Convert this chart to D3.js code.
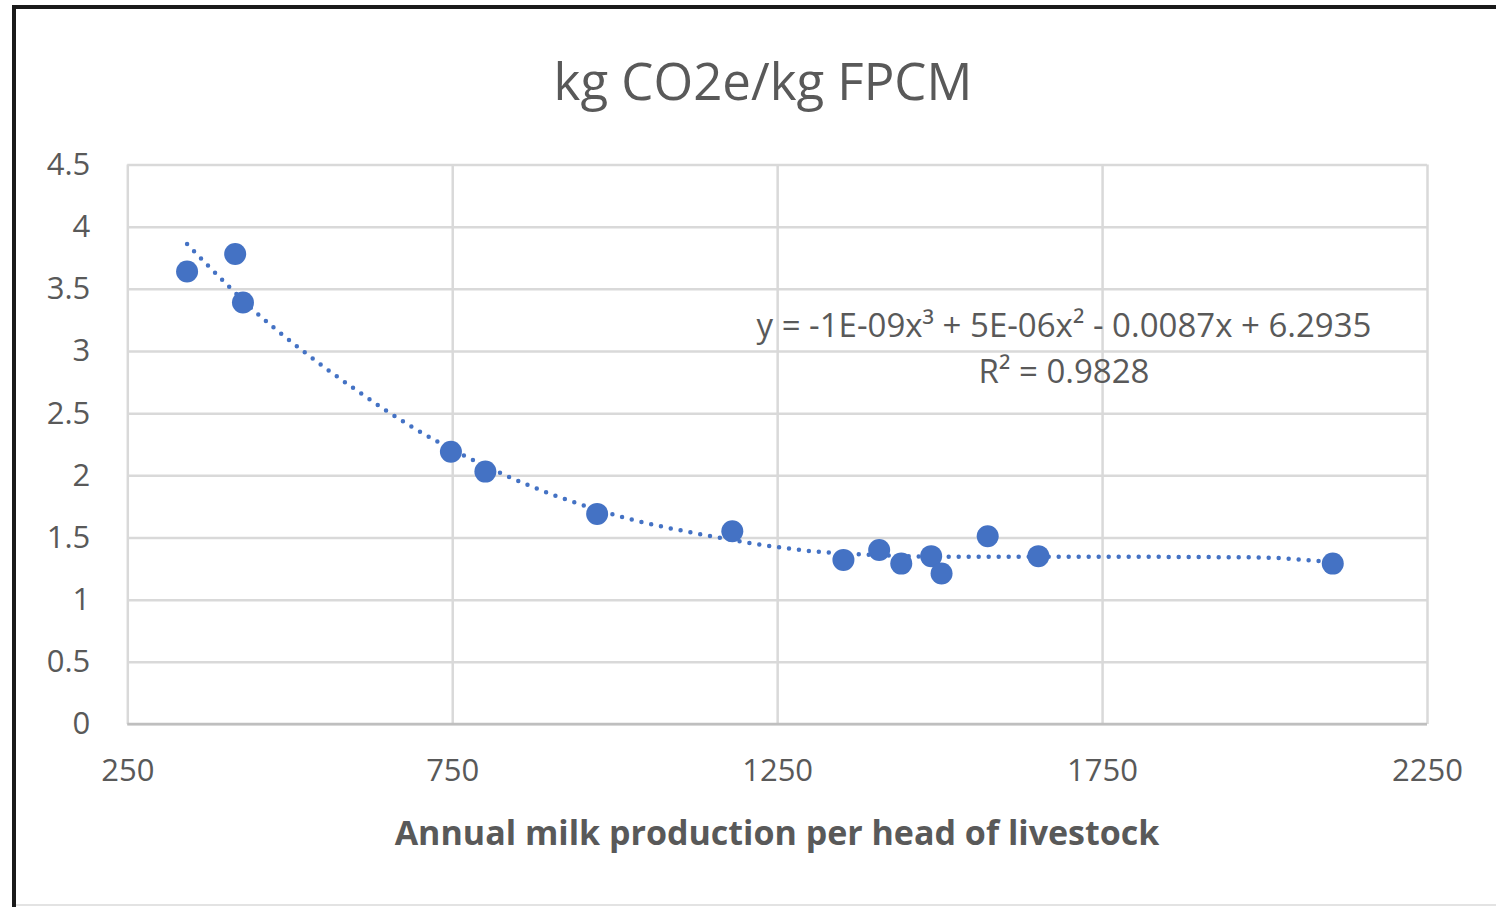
<!DOCTYPE html>
<html>
<head>
<meta charset="utf-8">
<script src="https://cdnjs.cloudflare.com/ajax/libs/d3/7.8.5/d3.min.js"></script>
<style>
  body { margin: 0; background: #fff; }
  #chart { width: 1496px; height: 907px; }
  text { font-family: "Open Sans", "Liberation Sans", sans-serif; fill: #595959; }
</style>
</head>
<body>
<div id="chart"></div>
<script>
// milk production per head (x) vs kg CO2e / kg FPCM (y)
var milkX = [342, 416, 428, 748, 801, 973, 1181, 1352, 1407, 1441, 1487, 1503, 1574, 1652, 2105];
var co2Y  = [3.64, 3.78, 3.39, 2.19, 2.03, 1.69, 1.55, 1.32, 1.40, 1.29, 1.35, 1.21, 1.51, 1.35, 1.29];

// dotted polynomial trendline
var trendX = [342, 406, 444, 513, 601, 691, 768, 832, 994, 1149, 1255, 1326, 1526, 1750, 1986, 2105];
var trendY = [3.86, 3.52, 3.33, 3.03, 2.69, 2.38, 2.16, 2.00, 1.69, 1.51, 1.42, 1.38, 1.345, 1.345, 1.34, 1.30];

var xTicks = [250, 750, 1250, 1750, 2250];
var yTicks = [0, 0.5, 1, 1.5, 2, 2.5, 3, 3.5, 4, 4.5];

var chartTitle = "kg CO2e/kg FPCM";
var xTitle = "Annual milk production per head of livestock";
var equation = "y = -1E-09x\u00B3 + 5E-06x\u00B2 - 0.0087x + 6.2935";
var rSquared = "R\u00B2 = 0.9828";

var W = 1496, H = 907;
var margin = { top: 164.5, right: 69, bottom: 183, left: 127.3 },
    width = W - margin.left - margin.right,
    height = H - margin.top - margin.bottom;

var svg = d3.select("#chart").append("svg")
    .attr("width", W)
    .attr("height", H);

// outer frame (screenshot border)
svg.append("path")
    .attr("d", "M14,907 L14,7 L1496,7")
    .attr("fill", "none")
    .attr("stroke", "#1a1a1a")
    .attr("stroke-width", 4);
svg.append("line")
    .attr("x1", 16).attr("x2", 1496)
    .attr("y1", 905).attr("y2", 905)
    .attr("stroke", "#e3e3e3")
    .attr("stroke-width", 2);

var g = svg.append("g")
    .attr("transform", "translate(" + margin.left + "," + margin.top + ")");

var xScale = d3.scaleLinear().domain([250, 2250]).range([0, width]);
var yScale = d3.scaleLinear().domain([0, 4.5]).range([height, 0]);

// y gridlines + labels
var yAxis = g.append("g")
    .attr("class", "axis axis--y")
    .call(d3.axisLeft(yScale).tickValues(yTicks).tickSize(-width).tickPadding(37)
        .tickFormat(function (d) { return d; }));
yAxis.select(".domain").remove();
yAxis.selectAll("line").attr("stroke", "#d9d9d9").attr("stroke-width", 2.5);
yAxis.selectAll("text").style("font-size", "31px").attr("fill", "#595959");

// x gridlines + labels
var xAxis = g.append("g")
    .attr("class", "axis axis--x")
    .attr("transform", "translate(0," + height + ")")
    .call(d3.axisBottom(xScale).tickValues(xTicks).tickSize(-height).tickPadding(35)
        .tickFormat(d3.format("d")));
xAxis.select(".domain").remove();
xAxis.selectAll("line").attr("stroke", "#d9d9d9").attr("stroke-width", 2.5);
xAxis.selectAll("text").style("font-size", "31px").attr("fill", "#595959");

// bottom axis line
g.append("line")
    .attr("x1", 0).attr("x2", width)
    .attr("y1", height).attr("y2", height)
    .attr("stroke", "#bfbfbf")
    .attr("stroke-width", 2.5);

// trendline
var trendData = trendX.map(function (d, i) { return [d, trendY[i]]; });
var line = d3.line()
    .x(function (d) { return xScale(d[0]); })
    .y(function (d) { return yScale(d[1]); })
    .curve(d3.curveMonotoneX);

g.append("path")
    .datum(trendData)
    .attr("d", line)
    .attr("fill", "none")
    .attr("stroke", "#4472C4")
    .attr("stroke-width", 4.5)
    .attr("stroke-linecap", "round")
    .attr("stroke-dasharray", "0,10");

// points
var pts = milkX.map(function (d, i) { return { x: d, y: co2Y[i] }; });
g.selectAll(".dot")
    .data(pts)
    .enter().append("circle")
    .attr("class", "dot")
    .attr("cx", function (d) { return xScale(d.x); })
    .attr("cy", function (d) { return yScale(d.y); })
    .attr("r", 11)
    .attr("fill", "#4472C4");

// equation + R2
svg.append("text")
    .attr("x", 1064)
    .attr("y", 337)
    .attr("text-anchor", "middle")
    .style("font-size", "33px")
    .text(equation);
svg.append("text")
    .attr("x", 1064)
    .attr("y", 383)
    .attr("text-anchor", "middle")
    .style("font-size", "33px")
    .text(rSquared);

// title
svg.append("text")
    .attr("x", 763)
    .attr("y", 100)
    .attr("text-anchor", "middle")
    .style("font-size", "51px")
    .text(chartTitle);

// x axis title
svg.append("text")
    .attr("x", 777)
    .attr("y", 845)
    .attr("text-anchor", "middle")
    .style("font-size", "34px")
    .style("font-weight", "bold")
    .text(xTitle);
</script>
</body>
</html>
